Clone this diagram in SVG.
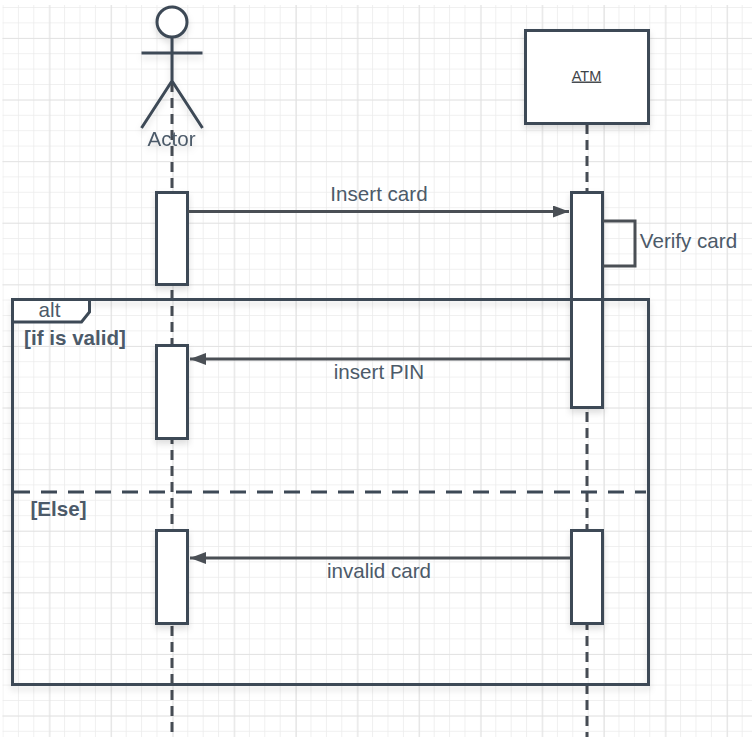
<svg xmlns="http://www.w3.org/2000/svg" width="752" height="737" viewBox="0 0 752 737">
<defs>
<pattern id="grid" x="2.5" y="7" width="15.4" height="15.4" patternUnits="userSpaceOnUse"><path d="M0 0H15.4M0 0V15.4" fill="none" stroke="#ececec" stroke-width="1.6"/></pattern>
<pattern id="major" x="49.500" y="38" width="61.6" height="61.6" patternUnits="userSpaceOnUse"><path d="M0 0H61.6M0 0V61.6" fill="none" stroke="#e0e0e0" stroke-width="1.6"/></pattern>
<filter id="sh" x="-20%" y="-20%" width="140%" height="140%"><feDropShadow dx="0" dy="4" stdDeviation="3" flood-color="#000" flood-opacity="0.13"/></filter>
<marker id="arrow" markerUnits="userSpaceOnUse" markerWidth="17" markerHeight="14" refX="16" refY="6" orient="auto"><path d="M0 0L16 6L0 12Z" fill="#4a4f55"/></marker>
</defs>
<style>
.s{fill:none;stroke:#3d4956;stroke-width:3}
.b{fill:#fff;stroke:#3d4956;stroke-width:3}
.life{fill:none;stroke:#464c54;stroke-width:3;stroke-dasharray:10 6}
.msg{fill:none;stroke:#4a4f55;stroke-width:3}
text{font-family:"Liberation Sans",Arial,sans-serif;fill:#4c5a69;font-size:20.6px;text-anchor:middle}
.bold{font-weight:bold}
</style>
<rect width="752" height="737" fill="#fff"/>
<rect x="2.5" y="5" width="750" height="732" fill="url(#grid)"/>
<rect x="2.5" y="5" width="750" height="732" fill="url(#major)"/>
<g id="connectors">
<path class="life" d="M172 82V737"/>
<path class="life" d="M587 124V737"/>
</g>
<g id="frame-alt">
<rect x="12.500" y="299.500" width="636" height="385" class="s" filter="url(#sh)"/>
<path class="b" d="M12.500 299.500H89.500V312L81.500 322H12.500Z"/>
<text x="49.500" y="316.500">alt</text>
<text x="75" y="344.700" class="bold">[if is valid]</text>
<text x="58.500" y="515.700" class="bold">[Else]</text>
<path class="s" d="M14 492H646" stroke-dasharray="16 11"/>
</g>
<g id="actor" filter="url(#sh)">
<circle cx="172" cy="22" r="15" class="b"/>
<path class="s" d="M172 37V81M141.500 53H202.500M141.500 128L172 81L202.500 128"/>
<text x="171.500" y="145.700">Actor</text>
</g>
<g id="atm">
<rect x="525.500" y="30.500" width="123" height="93" class="b" filter="url(#sh)"/>
<text x="586.500" y="80.500" style="font-size:14.500px;fill:#3f4448;text-decoration:underline">ATM</text>
</g>
<g id="activation-actor-1"><rect x="156.500" y="192.500" width="31" height="92" class="b" filter="url(#sh)"/></g>
<g id="activation-actor-2"><rect x="156.500" y="345.500" width="31" height="93" class="b" filter="url(#sh)"/></g>
<g id="activation-actor-3"><rect x="156.500" y="530.500" width="31" height="93" class="b" filter="url(#sh)"/></g>
<g id="activation-atm-1"><rect x="571.500" y="192.500" width="31" height="215" class="b" filter="url(#sh)"/></g>
<g id="activation-atm-2"><rect x="571.500" y="530.500" width="31" height="93" class="b" filter="url(#sh)"/></g>
<path class="s" d="M12.500 299.500H648.500"/>
<g id="messages">
<path class="msg" d="M188 211.500H569" marker-end="url(#arrow)"/>
<path class="msg" d="M603 221H635V266H603"/>
<path class="msg" d="M571 359H190" marker-end="url(#arrow)"/>
<path class="msg" d="M571 558H190" marker-end="url(#arrow)"/>
<text x="379" y="200.700">Insert card</text>
<text x="688.500" y="247.700">Verify card</text>
<text x="379" y="378.700">insert PIN</text>
<text x="379" y="577.700">invalid card</text>
</g>
</svg>
